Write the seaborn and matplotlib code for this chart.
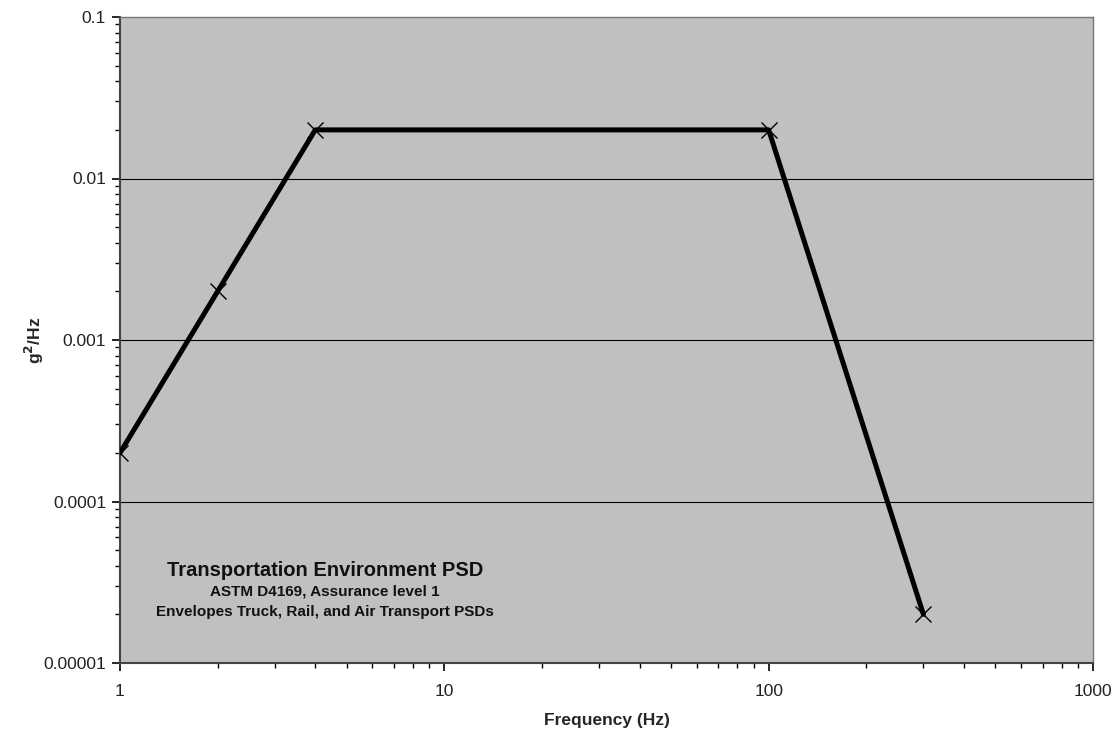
import matplotlib
matplotlib.use("Agg")
import matplotlib.pyplot as plt
import seaborn as sns
import pandas as pd
import numpy as np
from matplotlib.ticker import LogLocator, FixedLocator, FixedFormatter, NullFormatter

freq = [1, 2, 4, 100, 300]
psd = [0.0002, 0.002, 0.02, 0.02, 0.00002]

x_ticks = [1, 10, 100, 1000]
x_labels = ["1", "10", "100", "1000"]
y_ticks = [0.00001, 0.0001, 0.001, 0.01, 0.1]
y_labels = ["0.00001", "0.0001", "0.001", "0.01", "0.1"]

title_lines = ["Transportation Environment PSD",
               "ASTM D4169, Assurance level 1",
               "Envelopes Truck, Rail, and Air Transport PSDs"]

sns.set_style("white")
plt.rcParams['font.family'] = ['Liberation Sans', 'DejaVu Sans']

fig = plt.figure(figsize=(11.17, 7.33), dpi=100)
ax = fig.add_axes([120/1117, 1-663/733, (1093-120)/1117, (663-17)/733])
ax.set_facecolor("#C0C0C0")

df = pd.DataFrame({"freq": freq, "psd": psd})
sns.lineplot(data=df, x="freq", y="psd", ax=ax, color="black", linewidth=3.6,
             marker="x", markersize=12, markeredgewidth=1.0, markeredgecolor="black",
             sort=False, estimator=None, zorder=3)

ax.set_xscale("log")
ax.set_yscale("log")
ax.set_xlim(1, 1000)
ax.set_ylim(0.00001, 0.1)

ax.xaxis.set_major_locator(FixedLocator(x_ticks))
ax.xaxis.set_major_formatter(FixedFormatter(x_labels))
ax.yaxis.set_major_locator(FixedLocator(y_ticks))
ax.yaxis.set_major_formatter(FixedFormatter(y_labels))
ax.xaxis.set_minor_locator(LogLocator(base=10, subs=np.arange(2, 10)))
ax.yaxis.set_minor_locator(LogLocator(base=10, subs=np.arange(2, 10)))
ax.xaxis.set_minor_formatter(NullFormatter())
ax.yaxis.set_minor_formatter(NullFormatter())

ax.tick_params(axis="both", which="both", bottom=True, left=True, top=False, right=False)
ax.tick_params(axis="both", which="major", direction="out", length=6, width=1.2,
               color="black", labelsize=12.5, labelcolor="#222222", pad=4)
ax.tick_params(axis="both", which="minor", direction="out", length=3.5, width=1.0,
               color="black")
ax.tick_params(axis="x", which="major", pad=9)

ax.grid(False)
for yv in y_ticks[1:-1]:
    ax.axhline(yv, color="black", linewidth=0.8, zorder=1)

for side in ["left", "bottom"]:
    ax.spines[side].set_color("#444444")
    ax.spines[side].set_linewidth(1.5)
for side in ["top", "right"]:
    ax.spines[side].set_color("#777777")
    ax.spines[side].set_linewidth(1.0)

ax.set_xlabel("Frequency (Hz)", fontsize=12.5, fontweight="bold", labelpad=10)
ax.set_ylabel("g$\\mathbf{^2}$/Hz", fontsize=12.5, fontweight="bold", labelpad=-2)

cx = (325-120)/(1093-120)
ax.text(cx, 1-(571-17)/646, title_lines[0], transform=ax.transAxes, ha="center",
        va="center", fontsize=14.5, fontweight="bold", color="#111111")
ax.text(cx, 1-(592-17)/646, title_lines[1], transform=ax.transAxes, ha="center",
        va="center", fontsize=11, fontweight="bold", color="#111111")
ax.text(cx, 1-(612-17)/646, title_lines[2], transform=ax.transAxes, ha="center",
        va="center", fontsize=11, fontweight="bold", color="#111111")

fig.savefig("out.png", dpi=100, facecolor="white")
